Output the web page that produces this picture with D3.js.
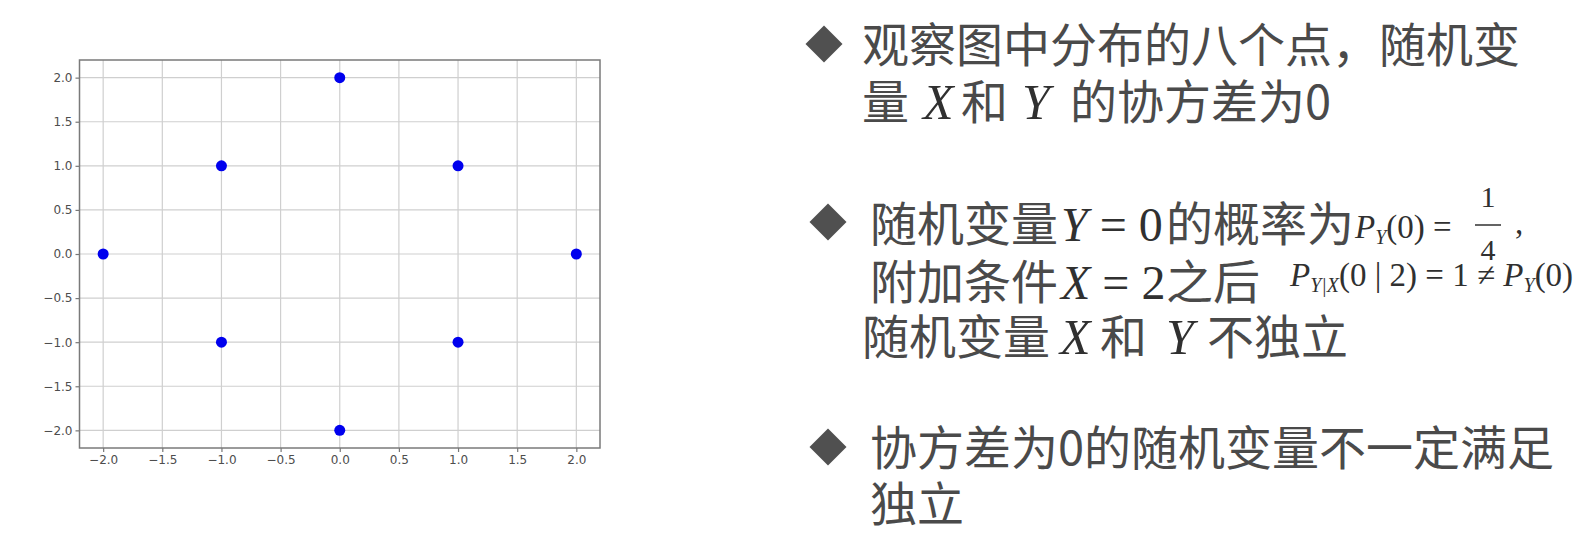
<!DOCTYPE html>
<html>
<head>
<meta charset="utf-8">
<script src="https://cdn.jsdelivr.net/npm/d3@7"></script>
<style>
  html, body { margin: 0; padding: 0; background: #ffffff; }
  svg { display: block; }
</style>
</head>
<body>
<svg id="chart" width="1590" height="548"></svg>
<script>
// ---------------- data ----------------
const pointsX = [-2, -1, -1, 0, 0, 1, 1, 2];
const pointsY = [0, 1, -1, 2, -2, 1, -1, 0];
const xTicks = [-2, -1.5, -1, -0.5, 0, 0.5, 1, 1.5, 2];
const yTicks = [-2, -1.5, -1, -0.5, 0, 0.5, 1, 1.5, 2];
const xDomain = [-2.2, 2.2];
const yDomain = [-2.2, 2.2];

// ---------------- layout ----------------
const svg = d3.select("#chart");
const plot = { left: 79.5, right: 600, top: 60, bottom: 448 };
const x = d3.scaleLinear().domain(xDomain).range([plot.left, plot.right]);
const y = d3.scaleLinear().domain(yDomain).range([plot.bottom, plot.top]);
const fmt = d3.format(".1f");

// grid
const g = svg.append("g");
g.append("g").selectAll("line").data(xTicks).join("line")
  .attr("x1", d => x(d)).attr("x2", d => x(d))
  .attr("y1", plot.top).attr("y2", plot.bottom)
  .attr("stroke", "#cfcfcf").attr("stroke-width", 1.2);
g.append("g").selectAll("line").data(yTicks).join("line")
  .attr("y1", d => y(d)).attr("y2", d => y(d))
  .attr("x1", plot.left).attr("x2", plot.right)
  .attr("stroke", "#cfcfcf").attr("stroke-width", 1.2);

// axes
const xAxis = d3.axisBottom(x).tickValues(xTicks).tickFormat(fmt).tickSize(4).tickPadding(3);
const yAxis = d3.axisLeft(y).tickValues(yTicks).tickFormat(fmt).tickSize(4).tickPadding(3);
const gx = g.append("g").attr("transform", `translate(0,${plot.bottom})`).call(xAxis);
const gy = g.append("g").attr("transform", `translate(${plot.left},0)`).call(yAxis);
[gx, gy].forEach(a => {
  a.select(".domain").remove();
  a.selectAll(".tick line").attr("stroke", "#777").attr("stroke-width", 1.2);
  a.selectAll(".tick text").attr("fill", "#4d4d4d")
    .style("font-family", "'DejaVu Sans', sans-serif").style("font-size", "12px");
});

// frame
g.append("rect")
  .attr("x", plot.left).attr("y", plot.top)
  .attr("width", plot.right - plot.left).attr("height", plot.bottom - plot.top)
  .attr("fill", "none").attr("stroke", "#7a7a7a").attr("stroke-width", 1.5);

// points
g.append("g").selectAll("circle").data(d3.range(pointsX.length)).join("circle")
  .attr("cx", i => x(pointsX[i])).attr("cy", i => y(pointsY[i]))
  .attr("r", 5.5).attr("fill", "#0000ee");

// ---------------- right-hand text ----------------
const CJK = "'Noto Sans CJK SC', 'Noto Sans', sans-serif";
const SERIF = "'Liberation Serif', 'DejaVu Serif', serif";
const txtColor = "#4a4a4a";
const mathColor = "#303030";

function seg(x0, y0, parts, opts = {}) {
  const t = svg.append("text").attr("x", x0).attr("y", y0)
    .attr("fill", opts.color || txtColor)
    .style("font-family", opts.family || CJK)
    .style("font-size", (opts.size || 47) + "px");
  parts.forEach(p => {
    const ts = t.append("tspan").text(p.t);
    if (p.italic) ts.style("font-style", "italic");
    if (p.size) ts.style("font-size", p.size + "px");
    if (p.dy) ts.attr("dy", p.dy);
  });
  return t;
}
function diamond(cx, cy, r) {
  svg.append("path")
    .attr("d", `M${cx},${cy - r}L${cx + r},${cy}L${cx},${cy + r}L${cx - r},${cy}Z`)
    .attr("fill", "#505050");
}

// bullet 1
diamond(824, 44, 18.5);
seg(862, 62, [{ t: "观察图中分布的八个点，随机变" }]);
seg(862, 119, [{ t: "量" }]);
seg(923, 119, [{ t: "X", italic: true }], { family: SERIF, size: 50, color: mathColor });
seg(961, 119, [{ t: "和" }]);
seg(1022, 119, [{ t: "Y", italic: true }], { family: SERIF, size: 50, color: mathColor });
seg(1070, 119, [{ t: "的协方差为0" }]);

// bullet 2
diamond(828, 222, 18.5);
seg(870, 241, [{ t: "随机变量" }]);
seg(1061, 241, [{ t: "Y", italic: true }, { t: " = 0" }], { family: SERIF, size: 48, color: mathColor });
seg(1166, 241, [{ t: "的概率为" }]);
seg(1355, 238, [
  { t: "P", italic: true },
  { t: "Y", italic: true, size: 20, dy: 6 },
  { t: "(0) =", dy: -6 }
], { family: SERIF, size: 33, color: mathColor });
seg(1488, 207, [{ t: "1" }], { family: SERIF, size: 30, color: mathColor }).attr("text-anchor", "middle");
svg.append("line").attr("x1", 1475).attr("x2", 1501).attr("y1", 225).attr("y2", 225)
  .attr("stroke", mathColor).attr("stroke-width", 1.5);
seg(1488, 260, [{ t: "4" }], { family: SERIF, size: 30, color: mathColor }).attr("text-anchor", "middle");
seg(1515, 234, [{ t: "," }], { family: SERIF, size: 33, color: mathColor });

seg(870, 299, [{ t: "附加条件" }]);
seg(1061, 299, [{ t: "X", italic: true }, { t: " = 2" }], { family: SERIF, size: 48, color: mathColor });
seg(1166, 299, [{ t: "之后" }]);
seg(1290, 286, [
  { t: "P", italic: true },
  { t: "Y|X", italic: true, size: 20, dy: 6 },
  { t: "(0 | 2) = 1 ≠ ", dy: -6 },
  { t: "P", italic: true },
  { t: "Y", italic: true, size: 20, dy: 6 },
  { t: "(0)", dy: -6 }
], { family: SERIF, size: 33, color: mathColor });

seg(862, 354, [{ t: "随机变量" }]);
seg(1060, 354, [{ t: "X", italic: true }], { family: SERIF, size: 50, color: mathColor });
seg(1100, 354, [{ t: "和" }]);
seg(1166, 354, [{ t: "Y", italic: true }], { family: SERIF, size: 50, color: mathColor });
seg(1207, 354, [{ t: "不独立" }]);

// bullet 3
diamond(828, 447, 18.5);
seg(870, 465, [{ t: "协方差为0的随机变量不一定满足" }]);
seg(870, 521, [{ t: "独立" }]);
</script>
</body>
</html>
